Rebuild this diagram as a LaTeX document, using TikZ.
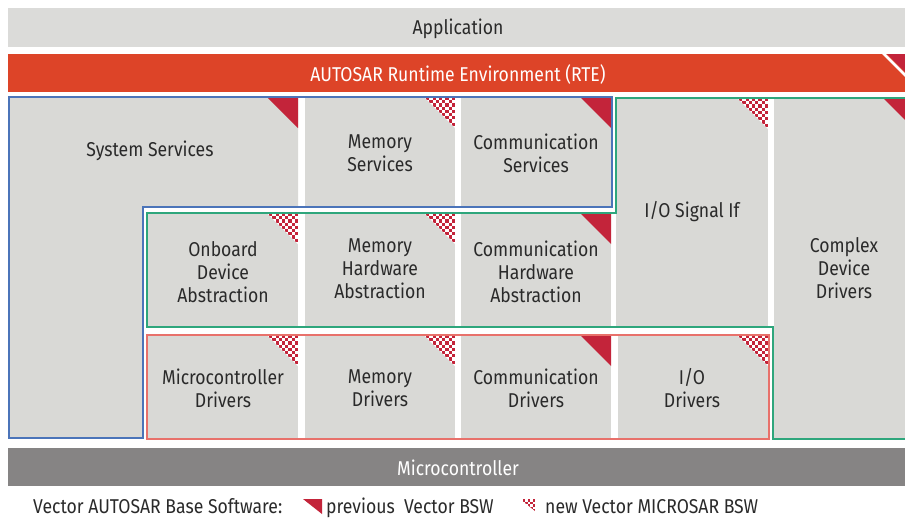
\documentclass[tikz,border=0pt]{standalone}
\usepackage{fontspec}
\setmainfont{Fira Sans}[FakeStretch=0.88]
\definecolor{appgray}{HTML}{DBDBD9}
\definecolor{cellgray}{HTML}{D9D9D6}
\definecolor{rtered}{HTML}{DD4428}
\definecolor{markred}{HTML}{C3243A}
\definecolor{microgray}{HTML}{868484}
\definecolor{blueline}{HTML}{4B74B9}
\definecolor{greenline}{HTML}{2EA67C}
\definecolor{pinkline}{HTML}{E8716B}
\definecolor{txt}{HTML}{2A2A2A}
\newcommand\prevmark[2]{\fill[markred] ({#1-31},#2) -- (#1,#2) -- (#1,{#2+31}) -- cycle;}
\newcommand\newmark[2]{%
  \begin{scope}
    \clip ({#1-31},#2) -- (#1,#2) -- (#1,{#2+31}) -- cycle;
    \fill[white] ({#1-31},#2) rectangle (#1,{#2+31});
    \foreach \i in {0,...,9}{\foreach \j in {0,...,9}{%
      \ifodd\numexpr\i+\j\relax\else
        \fill[markred] ({#1-(\i+1)*3.2},{#2+\j*3.2}) rectangle ++(3.2,3.2);
      \fi}}
  \end{scope}}
\begin{document}
\begin{tikzpicture}[x=1pt,y=-1pt,
  lbl/.style={font=\fontsize{20}{23}\selectfont, text=txt, align=center, inner sep=0pt},
  outline/.style={line width=2pt, line join=miter}]
\useasboundingbox (0,0) rectangle (905,517);
\fill[white] (0,0) rectangle (905,517);
\begin{scope}
\clip (0,0) rectangle (905,517);
% Application
\fill[appgray] (8,8) rectangle (915,47);
\node[lbl] (app) at (458,29) {Application};
% RTE
\fill[rtered] (8,54) rectangle (915,92);
\begin{scope}
  \clip (8,54) rectangle (915,92);
  \fill[markred] (887,54) -- (940,54) -- (940,107) -- cycle;
  \draw[white, line width=2.5pt] (883,53) -- (925,95);
\end{scope}
\node[lbl, text=white] (rte) at (458,74) {AUTOSAR Runtime Environment (RTE)};
% cells
\fill[cellgray] (9,97) -- (298,97) -- (298,207) -- (143,207) -- (143,438) -- (9,438) -- cycle;
\fill[cellgray] (305,97) rectangle (455,207);
\fill[cellgray] (461,97) rectangle (612,207);
\fill[cellgray] (616,98) rectangle (768,327);
\fill[cellgray] (774,98) rectangle (916,439);
\fill[cellgray] (147,213) rectangle (298,327);
\fill[cellgray] (305,213) rectangle (455,327);
\fill[cellgray] (461,213) rectangle (611,327);
\fill[cellgray] (147,335) rectangle (298,439);
\fill[cellgray] (305,335) rectangle (455,439);
\fill[cellgray] (461,335) rectangle (611,439);
\fill[cellgray] (618,335) rectangle (769,439);
% markers
\prevmark{298}{97}
\prevmark{611}{97}
\prevmark{611}{213}
\prevmark{611}{335}
\prevmark{914}{98}
\newmark{455}{97}
\newmark{768}{98}
\newmark{298}{213}
\newmark{455}{213}
\newmark{298}{335}
\newmark{455}{335}
\newmark{768}{335}
% outlines
\draw[outline, blueline] (9,97) -- (612,97) -- (612,207) -- (143,207) -- (143,438) -- (9,438) -- cycle;
\draw[outline, greenline] (616,98) -- (920,98) -- (920,439) -- (773,439) -- (773,327) -- (147,327) -- (147,213) -- (616,213) -- cycle;
\draw[outline, pinkline] (147,335) rectangle (769,439);
% labels
\node[lbl] (sys) at (150,151) {System Services};
\node[lbl] (memserv) at (380,153) {Memory\\Services};
\node[lbl] (commserv) at (536,153) {Communication\\Services};
\node[lbl] (iosig) at (692,212) {I/O Signal If};
\node[lbl] (cdd) at (844,268) {Complex\\Device\\Drivers};
\node[lbl] (onb) at (223,272) {Onboard\\Device\\Abstraction};
\node[lbl] (memhw) at (380,269) {Memory\\Hardware\\Abstraction};
\node[lbl] (commhw) at (536,272) {Communication\\Hardware\\Abstraction};
\node[lbl] (mcudrv) at (223,388) {Microcontroller\\Drivers};
\node[lbl] (memdrv) at (380,388) {Memory\\Drivers};
\node[lbl] (commdrv) at (536,388) {Communication\\Drivers};
\node[lbl] (iodrv) at (692,388) {I/O\\Drivers};
% microcontroller
\fill[microgray] (8,448) rectangle (915,486);
\node[lbl, text=white] (mcu) at (458,468) {Microcontroller};
% legend
\node[lbl, anchor=base west] (leg) at (33,513) {Vector AUTOSAR Base Software:};
\fill[markred] (303,499) -- (322,499) -- (322,514) -- cycle;
\node[lbl, anchor=base west] (legprev) at (326,513) {previous\ \ Vector BSW};
\begin{scope}
  \clip (520,499) -- (535,499) -- (535,511) -- cycle;
  \foreach \i in {0,...,6}{\foreach \j in {0,...,6}{%
    \ifodd\numexpr\i+\j\relax\else
      \fill[markred] ({535-(\i+1)*2.5},{499+\j*2.5}) rectangle ++(2.5,2.5);
    \fi}}
\end{scope}
\node[lbl, anchor=base west] (legnew) at (545,513) {new Vector MICROSAR BSW};
\end{scope}
\end{tikzpicture}
\end{document}
